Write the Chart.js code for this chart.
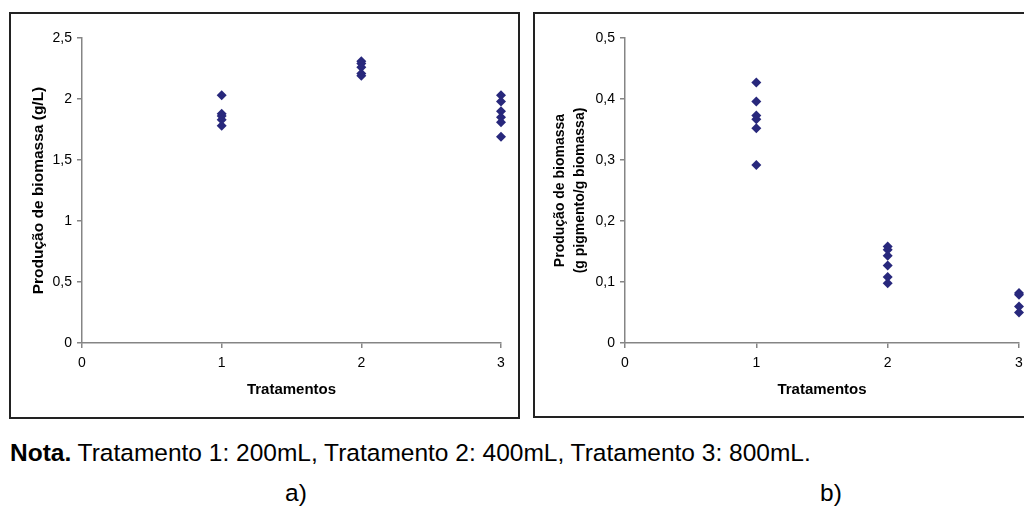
<!DOCTYPE html>
<html><head><meta charset="utf-8">
<script src="https://cdn.jsdelivr.net/npm/chart.js@4"></script>
<style>
html,body{margin:0;padding:0;width:1024px;height:507px;overflow:hidden;background:#fff;font-family:"Liberation Sans",Arial,sans-serif;}
.box{position:absolute;border:2px solid #222;box-sizing:border-box;background:#fff;}
canvas{position:absolute;}
.note{position:absolute;left:10px;top:441px;font-size:24.5px;line-height:24px;white-space:nowrap;color:#000;}
.lab{position:absolute;top:481px;font-size:24.5px;line-height:24px;transform:translateX(-50%);color:#000;}
</style></head><body>
<div class="box" style="left:9px;top:12px;width:511px;height:407px"></div>
<div class="box" style="left:533px;top:12px;width:530px;height:406px"></div>
<canvas id="cA" width="507" height="402" style="left:11px;top:14px"></canvas>
<canvas id="cB" width="506" height="402" style="left:535px;top:14px"></canvas>
<div class="note"><b>Nota.</b> Tratamento 1: 200mL, Tratamento 2: 400mL, Tratamento 3: 800mL.</div>
<div class="lab" style="left:296px">a)</div>
<div class="lab" style="left:831px">b)</div>
<script>
// ---- data ----
const categories = [1, 2, 3];
const biomassT1 = [2.03, 1.88, 1.86, 1.83, 1.78];
const biomassT2 = [2.31, 2.29, 2.26, 2.21, 2.19];
const biomassT3 = [2.03, 1.98, 1.90, 1.85, 1.81, 1.69];
const pigmentT1 = [0.427, 0.396, 0.373, 0.367, 0.352, 0.292];
const pigmentT2 = [0.158, 0.153, 0.143, 0.127, 0.108, 0.098];
const pigmentT3 = [0.082, 0.079, 0.060, 0.050];
const xTickValues = [0, 1, 2, 3];
const xTickLabels = ['0', '1', '2', '3'];
const yTickValuesA = [0, 0.5, 1, 1.5, 2, 2.5];
const yTickLabelsA = ['0', '0,5', '1', '1,5', '2', '2,5'];
const yTickValuesB = [0, 0.1, 0.2, 0.3, 0.4, 0.5];
const yTickLabelsB = ['0', '0,1', '0,2', '0,3', '0,4', '0,5'];
const xTitle = 'Tratamentos';
const yTitleA = 'Produção de biomassa (g/L)';
const yTitleB = ['Produção de biomassa', '(g pigmento/g biomassa)'];

Chart.defaults.font.family = '"Liberation Sans", Arial, sans-serif';
Chart.defaults.color = '#000';

function toPoints(groups) {
  const pts = [];
  categories.forEach((c, i) => groups[i].forEach(v => pts.push({x: c, y: v})));
  return pts;
}

function makeChart(id, groups, yVals, yLabels, yTitle, cfg) {
  const axisColor = '#858585';
  new Chart(document.getElementById(id), {
    type: 'scatter',
    data: { datasets: [{
      data: toPoints(groups),
      clip: false,
      pointStyle: 'rectRot',
      pointRadius: 5,
      pointHoverRadius: 5,
      backgroundColor: '#28287c',
      borderColor: '#28287c',
      borderWidth: 0
    }]},
    options: {
      responsive: false,
      animation: false,
      events: [],
      layout: { padding: { left: 0, top: 24, right: cfg.padRight, bottom: 0 } },
      plugins: { legend: { display: false }, tooltip: { enabled: false } },
      scales: {
        x: {
          type: 'linear', min: 0, max: 3,
          afterBuildTicks: s => { s.ticks = xTickValues.map(v => ({value: v})); },
          afterFit: s => { s.height = 73; },
          ticks: { callback: (v, i) => xTickLabels[i], font: { size: 14 }, color: '#000', padding: 7, maxRotation: 0, autoSkip: false },
          grid: { display: true, drawOnChartArea: false, drawTicks: true, tickLength: 5, color: axisColor, lineWidth: 1.5 },
          border: { display: true, color: axisColor, width: 1.5 },
          title: { display: true, text: xTitle, font: { size: 15, weight: 'bold' }, color: '#000', padding: { top: 0, bottom: 17 } }
        },
        y: {
          type: 'linear', min: yVals[0], max: yVals[yVals.length - 1],
          afterBuildTicks: s => { s.ticks = yVals.map(v => ({value: v})); },
          afterFit: s => { s.width = cfg.yWidth; },
          ticks: { callback: (v, i) => yLabels[i], font: { size: 14 }, color: '#000', padding: 5, autoSkip: false },
          grid: { display: true, drawOnChartArea: false, drawTicks: true, tickLength: 5, color: axisColor, lineWidth: 1.5 },
          border: { display: true, color: axisColor, width: 1.5 },
          title: { display: true, text: yTitle, font: { size: cfg.titleSize, weight: 'bold', lineHeight: cfg.titleLH }, color: '#000', padding: { top: cfg.titlePad, bottom: 0 } }
        }
      }
    }
  });
}

makeChart('cA', [biomassT1, biomassT2, biomassT3], yTickValuesA, yTickLabelsA, yTitleA,
  { padRight: 17, yWidth: 71, titleSize: 15.5, titleLH: 1.2, titlePad: 18 });
makeChart('cB', [pigmentT1, pigmentT2, pigmentT3], yTickValuesB, yTickLabelsB, yTitleB,
  { padRight: 22, yWidth: 90, titleSize: 14, titleLH: 20/14, titlePad: 15 });
</script>
</body></html>
